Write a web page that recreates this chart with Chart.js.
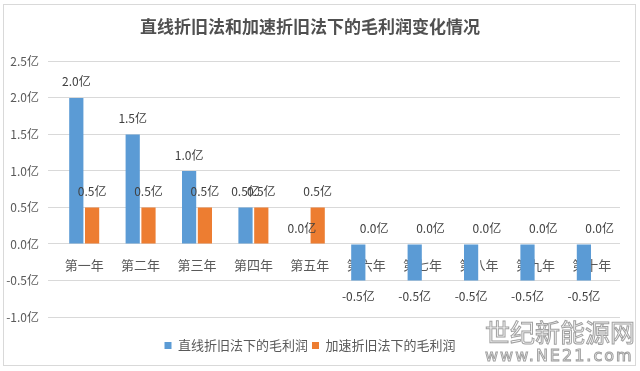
<!DOCTYPE html>
<html>
<head>
<meta charset="utf-8">
<script src="https://cdn.jsdelivr.net/npm/chart.js@4/dist/chart.umd.min.js"></script>
<style>
  html, body { margin: 0; padding: 0; background: #fff; }
  #wrap { position: relative; width: 640px; height: 371px; }
  #frame { position: absolute; left: 3px; top: 4px; width: 631px; height: 360px; border: 1px solid #d9d9d9; }
  canvas { position: absolute; left: 0; top: 0; }
  #mark { position: absolute; left: 485px; top: 316px; white-space: nowrap; font-family: "Noto Sans CJK SC", sans-serif; color: rgba(255,255,255,0.7); -webkit-text-stroke: 1px #a0a0a0; pointer-events: none; }
  #mark .big { font-size: 25px; line-height: 31px; }
  #mark .small { font-family: "DejaVu Sans", sans-serif; font-size: 16px; line-height: 18px; letter-spacing: 2px; }
</style>
</head>
<body>
<div id="wrap">
  <div id="frame"></div>
  <canvas id="chart" width="640" height="371"></canvas>
  <div id="mark"><div class="big">世纪新能源网</div><div class="small">www.NE21.com</div></div>
</div>
<script>
// chart data
const years = ["第一年", "第二年", "第三年", "第四年", "第五年", "第六年", "第七年", "第八年", "第九年", "第十年"];
const straightLine = [2.0, 1.5, 1.0, 0.5, 0.0, -0.5, -0.5, -0.5, -0.5, -0.5];
const accelerated = [0.5, 0.5, 0.5, 0.5, 0.5, 0.0, 0.0, 0.0, 0.0, 0.0];
const seriesNames = ["直线折旧法下的毛利润", "加速折旧法下的毛利润"];
const chartTitle = "直线折旧法和加速折旧法下的毛利润变化情况";

const fontName = "'Noto Sans CJK SC', 'Microsoft YaHei', sans-serif";

// draws the value labels above/below each bar
const valueLabels = {
  id: "valueLabels",
  afterDatasetsDraw(chart) {
    const ctx = chart.ctx;
    ctx.save();
    ctx.font = "12px " + fontName;
    ctx.fillStyle = "#404040";
    ctx.textAlign = "center";
    ctx.textBaseline = "middle";
    chart.data.datasets.forEach((ds, i) => {
      chart.getDatasetMeta(i).data.forEach((bar, j) => {
        const v = ds.data[j];
        const y = v < 0 ? bar.y + 16 : bar.y - 16;
        ctx.fillText(v.toFixed(1) + "亿", bar.x, y);
      });
    });
    ctx.restore();
  }
};

new Chart(document.getElementById("chart"), {
  type: "bar",
  data: {
    labels: years,
    datasets: [
      { label: seriesNames[0], data: straightLine, backgroundColor: "#5B9BD5" },
      { label: seriesNames[1], data: accelerated, backgroundColor: "#ED7D31" }
    ]
  },
  options: {
    responsive: false,
    animation: false,
    layout: { padding: { left: 0, right: 20, top: 6, bottom: 9 } },
    datasets: { bar: { categoryPercentage: 0.56, barPercentage: 0.9 } },
    scales: {
      x: {
        position: { y: 0 },
        grid: { display: false },
        border: { display: false },
        ticks: { color: "#595959", font: { size: 13, family: fontName }, padding: 5 }
      },
      // empty axis that only keeps a gap above the legend
      gap: {
        type: "category",
        position: "bottom",
        grid: { display: false },
        border: { display: false },
        ticks: { display: false },
        afterFit: s => { s.height = 18; }
      },
      y: {
        min: -1, max: 2.5,
        grid: { color: "#d9d9d9" },
        border: { display: false },
        afterFit: s => { s.width = 56; },
        ticks: {
          stepSize: 0.5,
          color: "#595959",
          padding: 9,
          font: { size: 12, family: fontName },
          callback: v => v.toFixed(1) + "亿"
        }
      }
    },
    plugins: {
      title: {
        display: true,
        text: chartTitle,
        color: "#505050",
        font: { size: 17, weight: "bold", family: fontName },
        padding: { top: 10, bottom: 25 }
      },
      legend: {
        position: "bottom",
        labels: { boxWidth: 7, boxHeight: 7, color: "#595959", font: { size: 13, family: fontName }, padding: 4 }
      },
      tooltip: { enabled: false }
    }
  },
  plugins: [valueLabels]
});
</script>
</body>
</html>
